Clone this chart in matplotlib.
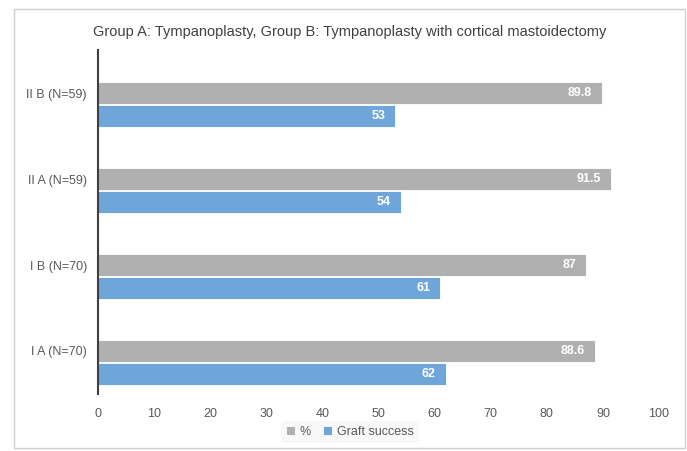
import numpy as np
import matplotlib.pyplot as plt
from matplotlib.patches import Rectangle

# Graft success by group
groups = ["I A (N=70)", "I B (N=70)", "II A (N=59)", "II B (N=59)"]
pct = [88.6, 87, 91.5, 89.8]
graft_success = [62, 61, 54, 53]

grey = "#B0B0B0"
blue = "#6FA6DA"
txt = "#595959"

plt.rcParams["font.family"] = ["Liberation Sans", "DejaVu Sans"]

fig = plt.figure(figsize=(6.87, 4.51), dpi=100)
ax = fig.add_axes([98 / 687, 1 - 394 / 451, 561 / 687, 344 / 451])

# light frame round the whole chart
fig.patches.append(Rectangle((14 / 687, 3 / 451), 671 / 687, 439 / 451,
                             transform=fig.transFigure, fill=False,
                             edgecolor="#D0D0D0", linewidth=1.0))

y = np.arange(len(groups))
h = 0.26
b1 = ax.barh(y, pct, height=h, color=grey, edgecolor="white", linewidth=0.6, label="%")
b2 = ax.barh(y - 0.27, graft_success, height=h, color=blue, edgecolor="white",
             linewidth=0.6, label="Graft success")

for bars, vals in ((b1, pct), (b2, graft_success)):
    for bar, v in zip(bars, vals):
        ax.text(bar.get_width() - 1.8, bar.get_y() + bar.get_height() / 2, f"{v:g}",
                ha="right", va="center", color="white", fontsize=9, fontweight="bold")

ax.set_xlim(0, 100)
ax.set_ylim(-0.5, 3.5)
ax.set_xticks(np.arange(0, 101, 10))
ax.set_yticks(y)
ax.set_yticklabels(groups)
ax.tick_params(axis="both", length=0, colors=txt, labelsize=9)
ax.tick_params(axis="x", pad=10)
ax.tick_params(axis="y", pad=8)
for s in ("top", "right", "bottom"):
    ax.spines[s].set_visible(False)
ax.spines["left"].set_color("#404040")
ax.spines["left"].set_linewidth(1.5)

fig.text(350 / 687, 1 - 32 / 451,
         "Group A: Tympanoplasty, Group B: Tympanoplasty with cortical mastoidectomy",
         ha="center", va="center", fontsize=10.5, color="#404040")

leg = fig.legend(handles=[b1, b2], loc="center", bbox_to_anchor=(350 / 687, 1 - 432 / 451),
                 ncol=2, frameon=True, fontsize=9, handlelength=0.7, handleheight=0.7,
                 handletextpad=0.4, columnspacing=1.0, borderpad=0.4)
leg.get_frame().set_facecolor("#F7F7F7")
leg.get_frame().set_edgecolor("none")
for t in leg.get_texts():
    t.set_color(txt)

plt.savefig("out.png", dpi=100)
